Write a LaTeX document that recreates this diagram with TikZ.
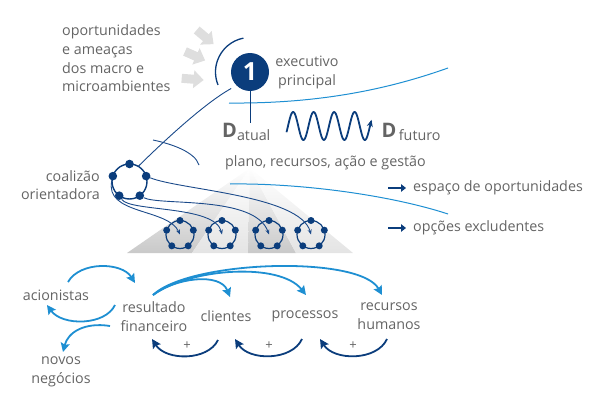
\documentclass[tikz,border=0pt]{standalone}
\usepackage{fontspec}
\setmainfont{Open Sans}
\usetikzlibrary{arrows.meta,calc}

\definecolor{navy}{HTML}{0B3D7C}
\definecolor{linkblue}{HTML}{1B4A8A}
\definecolor{skyblue}{HTML}{1E8FD2}
\definecolor{textgray}{HTML}{646464}
\definecolor{softgray}{HTML}{DEDEDE}
\definecolor{pyrdark}{HTML}{C9C9C9}
\definecolor{pyrlight}{HTML}{E4E4E4}

\begin{document}
\begin{tikzpicture}[x=1pt,y=-1pt,
  lbl/.style={text=textgray, font=\fontsize{14.3}{18.7}\selectfont, inner sep=0pt},
  ring/.style={circle, draw=navy, line width=1.4pt, inner sep=0pt, outer sep=0pt, minimum size=35pt},
  smallring/.style={ring, line width=1.2pt, minimum size=28pt},
  bigdot/.style={circle, fill=navy, inner sep=0pt, minimum size=8.6pt},
  smalldot/.style={circle, fill=navy, inner sep=0pt, minimum size=7pt},
  link/.style={draw=linkblue, line width=0.9pt},
  linkarrow/.style={link, -{Stealth[length=5pt,width=4pt]}},
  sky/.style={draw=skyblue, line width=1pt},
  outflow/.style={draw=skyblue, line width=1.8pt, -{Stealth[length=9pt,width=9pt,inset=1.5pt]}},
  backflow/.style={draw=navy, line width=1.8pt, -{Stealth[length=9pt,width=9pt,inset=1.5pt]}},
  legarrow/.style={draw=navy, line width=2.6pt, -{Triangle[length=5pt,width=7.5pt]}},
  softarrow/.pic={\fill[softgray] (0,-4.5) -- (12,-4.5) -- (12,-9) -- (22,0) -- (12,9) -- (12,4.5) -- (0,4.5) -- cycle;}
]
\useasboundingbox (0,0) rectangle (610,420);

% ---- fan-shaped backdrop under the teams
\coordinate (apex) at (250,168);
\shade[top color=white, bottom color=pyrdark]  (apex) -- (127,253) -- (192,253) -- cycle;
\shade[top color=white, bottom color=pyrlight] (apex) -- (192,253) -- (248,253) -- cycle;
\shade[top color=white, bottom color=pyrdark]  (apex) -- (248,253) -- (296,253) -- cycle;
\shade[top color=white, bottom color=pyrlight] (apex) -- (296,253) -- (353,253) -- cycle;

% ---- environment pressures
\node[lbl, anchor=west, align=left] (env) at (62,58.5)
  {oportunidades\\e ameaças\\dos macro e\\microambientes};
\pic[rotate=-40] at (196.7,30) {softarrow};
\pic[rotate=-24] at (185,51.5) {softarrow};
\pic[rotate=-4.5] at (181.7,78.3) {softarrow};

% ---- chief executive
\node[circle, fill=navy, minimum size=38pt, inner sep=0pt, text=white,
      font=\fontsize{25}{25}\selectfont\bfseries] (exec) at (250,72) {1};
\draw[navy, line width=1.3pt] ([shift={(101:34.5pt)}]exec.center)
  arc[start angle=101, end angle=202, radius=34.5pt];
\node[lbl, align=center] (execlbl) at (307,72.5) {executivo\\principal};

% ---- horizon line
\coordinate (hzA) at (229,103);
\coordinate (hzB) at (448,68);
\draw[sky] (hzA) .. controls (330,104) and (400,85) .. (hzB);

% ---- current and future state
\node[anchor=base west, inner sep=0pt, text=textgray] (dnow) at (222,137)
  {\fontsize{20}{20}\selectfont\bfseries D\fontsize{14.3}{14.3}\selectfont\mdseries\raisebox{-3pt}{atual}};
\node[anchor=base west, inner sep=0pt, text=textgray] (dnext) at (381.5,137)
  {\fontsize{20}{20}\selectfont\bfseries D\fontsize{14.3}{14.3}\selectfont\mdseries\,\raisebox{-3pt}{futuro}};
\draw[navy, line width=0.9pt] (exec.south) -- (exec.south |- dnow.north);
\draw[navy, line width=1.8pt, -{Stealth[length=7pt,width=6pt]}]
  plot[domain=286.5:371.5, samples=160, smooth] (\x, {126 - 14*sin(17.561*(\x-288))});
\node[lbl] (plan) at (325.5,163) {plano, recursos, ação e gestão};

% ---- guiding coalition
\node[lbl, anchor=east, align=right] (coallbl) at (100,185) {coalizão\\orientadora};
\node[ring] (coal) at (129.5,181.5) {};
\foreach \a/\n in {90/a,18/b,-54/c,-126/d,162/e}
  \node[bigdot] (coal-\n) at (coal.\a) {};
\draw[link, shorten <=6pt] (exec.225) .. controls (205,103) and (165,140) .. (coal.60);
\coordinate (arcA) at (153,140);
\coordinate (arcB) at (199,165);
\draw[link] (arcA) .. controls (172,144) and (195,152) .. (arcB);

% ---- teams
\foreach \i/\x in {1/180,2/222,3/269,4/311} {
  \node[smallring] (team\i) at (\x,234.5) {};
  \foreach \a in {90,18,-54,-126,162}
    \node[smalldot] (team\i-\a) at (team\i.\a) {};
}
\draw[linkarrow] (coal-e) .. controls (104,215) and (168,208) .. (team1.center);
\draw[linkarrow] (coal-d) .. controls (130,212) and (215,205) .. (team2.center);
\draw[linkarrow] (coal-c) .. controls (160,206) and (255,195) .. (team3.center);
\draw[linkarrow] (coal-b) .. controls (180,190) and (300,195) .. (team4.center);

% ---- opportunity space
\coordinate (opA) at (230,184);
\coordinate (opB) at (448,214);
\draw[sky] (opA) .. controls (300,183) and (390,195) .. (opB);
\node[lbl, anchor=west] (space) at (413,188) {espaço de oportunidades};
\node[lbl, anchor=west] (excl) at (413,228) {opções excludentes};
\draw[legarrow] ([xshift=-25pt]space.west) -- ([xshift=-7pt]space.west);
\draw[legarrow] ([xshift=-25pt]excl.west) -- ([xshift=-7pt]excl.west);

% ---- value chain
\node[lbl] (acion) at (56,295) {acionistas};
\node[lbl, align=center] (resfin) at (154,316.5) {resultado\\financeiro};
\node[lbl] (cli) at (226,316) {clientes};
\node[lbl] (proc) at (305,316) {processos};
\node[lbl, align=center] (rh) at (389,316.5) {recursos\\humanos};
\node[lbl, align=center] (novos) at (61,372) {novos\\negócios};

\draw[outflow] ([shift={(12,-13)}]acion.center) .. controls (80,261) and (122,262) .. ([shift={(-19,-33.5)}]resfin.center);
\draw[outflow] ([shift={(-39,-11.5)}]resfin.center) .. controls (105,326) and (62,326) .. ([shift={(-9,10)}]acion.center);
\draw[outflow] ([shift={(-44,9.5)}]resfin.center) .. controls (85,322) and (68,332) .. ([shift={(2,-20)}]novos.center);
\draw[outflow] ([shift={(-1,-21.5)}]resfin.center) .. controls (175,278) and (220,272) .. ([shift={(4,-19)}]cli.center);
\draw[outflow] ([shift={(-1,-21.5)}]resfin.center) .. controls (190,268) and (280,262) .. ([shift={(1,-21)}]proc.center);
\draw[outflow] ([shift={(-1,-21.5)}]resfin.center) .. controls (190,260) and (360,255) .. ([shift={(-7,-21.5)}]rh.center);

\draw[backflow] ([shift={(-8,24)}]cli.center) .. controls (208,361) and (166,361) .. ([shift={(-2,22.5)}]resfin.center);
\draw[backflow] ([shift={(-3,23)}]proc.center) .. controls (292,361) and (249,361) .. ([shift={(9,23)}]cli.center);
\draw[backflow] ([shift={(-2,22.5)}]rh.center) .. controls (377,361) and (334,361) .. ([shift={(15,23)}]proc.center);
\node[lbl, font=\fontsize{13}{13}\selectfont] (plus1) at (187,346) {+};
\node[lbl, font=\fontsize{13}{13}\selectfont] (plus2) at (269,346) {+};
\node[lbl, font=\fontsize{13}{13}\selectfont] (plus3) at (353,346) {+};
\end{tikzpicture}
\end{document}
